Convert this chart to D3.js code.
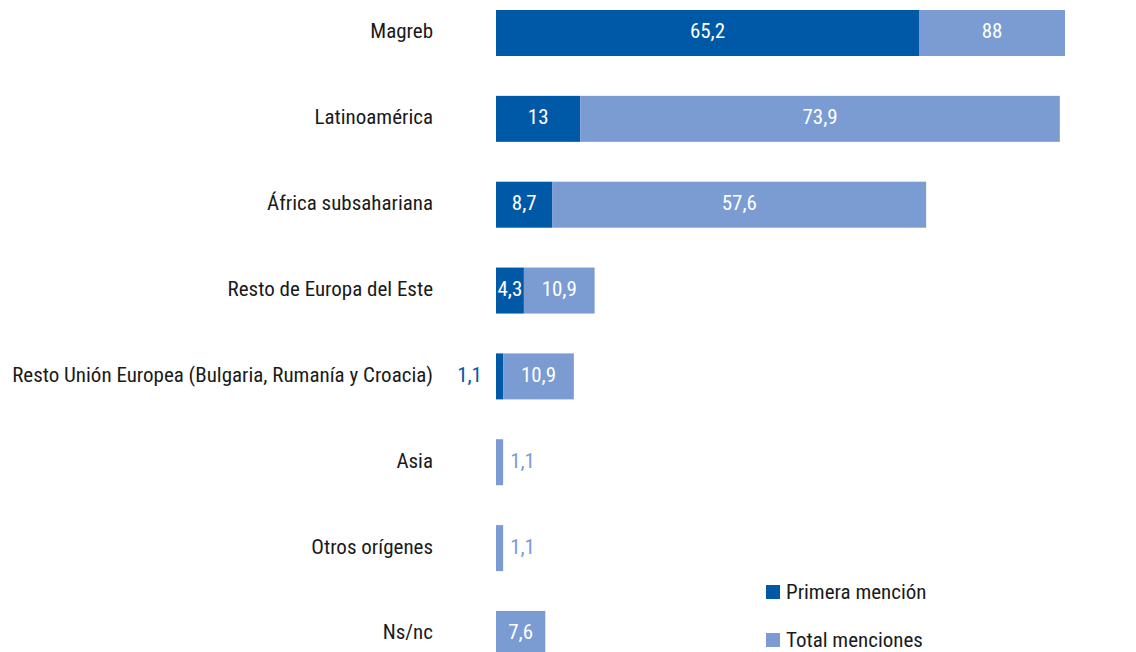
<!DOCTYPE html>
<html><head><meta charset="utf-8">
<script src="https://cdn.jsdelivr.net/npm/d3@7"></script>
<style>
body{margin:0;background:#fff;}
text{font-family:"Liberation Sans Narrow","Roboto Condensed","DejaVu Sans Condensed",sans-serif;}
</style></head>
<body><svg id="c" width="1136" height="652"></svg>
<script>
const categories = ["Magreb","Latinoamérica","África subsahariana","Resto de Europa del Este","Resto Unión Europea (Bulgaria, Rumanía y Croacia)","Asia","Otros orígenes","Ns/nc"];
const primeraMencion = [65.2, 13, 8.7, 4.3, 1.1, 0, 0, 0];
const totalMenciones = [88, 73.9, 57.6, 10.9, 10.9, 1.1, 1.1, 7.6];
const seriesNames = ["Primera mención","Total menciones"];
const colors = ["#0059A6","#7A9CD3"];
const fmt = v => String(v).replace(".", ",");

const svg = d3.select("#c");
const x = d3.scaleLinear().domain([0, 87.7]).range([496, 1065]).clamp(true);
const step = 85.85, bw = 46, pin = 1 - bw/step;
const r0 = 10 - (step - bw)/2;
const y = d3.scaleBand().domain(categories).range([r0, r0 + step*categories.length]).paddingInner(pin).paddingOuter(pin/2);

const data = categories.map((c,i)=>({cat:c, p:primeraMencion[i], t:totalMenciones[i]}));
const FS = 21, DY = "0.26em";

// category labels
svg.append("g").selectAll("text").data(data).join("text")
  .attr("x", 433).attr("y", d=>y(d.cat)+y.bandwidth()/2).attr("dy",DY)
  .attr("text-anchor","end").attr("font-size",FS).attr("fill","#1a1a1a").text(d=>d.cat);

// primera bars
svg.append("g").selectAll("rect").data(data.filter(d=>d.p>0)).join("rect")
  .attr("x", x(0)).attr("y", d=>y(d.cat)).attr("height", y.bandwidth())
  .attr("width", d=>x(d.p)-x(0)).attr("fill", colors[0]);
// total bars stacked
svg.append("g").selectAll("rect").data(data).join("rect")
  .attr("x", d=>x(d.p)).attr("y", d=>y(d.cat)).attr("height", y.bandwidth())
  .attr("width", d=>x(d.p+d.t)-x(d.p)).attr("fill", colors[1]);

// labels primera
svg.append("g").selectAll("text").data(data.filter(d=>d.p>0)).join("text")
  .attr("x", d=> d.p < 2 ? x(0)-14 : (x(0)+x(d.p))/2)
  .attr("y", d=>y(d.cat)+y.bandwidth()/2).attr("dy",DY)
  .attr("text-anchor", d=> d.p<2 ? "end" : "middle")
  .attr("font-size",FS).attr("fill", d=> d.p<2 ? colors[0] : "#fff").text(d=>fmt(d.p));
// labels total
svg.append("g").selectAll("text").data(data).join("text")
  .attr("x", d=> d.t < 2 ? x(d.p+d.t)+7 : (x(d.p)+x(d.p+d.t))/2)
  .attr("y", d=>y(d.cat)+y.bandwidth()/2).attr("dy",DY)
  .attr("text-anchor", d=> d.t<2 ? "start" : "middle")
  .attr("font-size",FS).attr("fill", d=> d.t<2 ? colors[1] : "#fff").text(d=>fmt(d.t));

// legend
const lg = svg.append("g");
seriesNames.forEach((s,i)=>{
  const base = 599 + i*48;
  lg.append("rect").attr("x",766).attr("y",base-14).attr("width",14).attr("height",14).attr("fill",colors[i]);
  lg.append("text").attr("x",786).attr("y",base).attr("font-size",FS).attr("fill","#1a1a1a").text(s);
});
</script></body></html>
